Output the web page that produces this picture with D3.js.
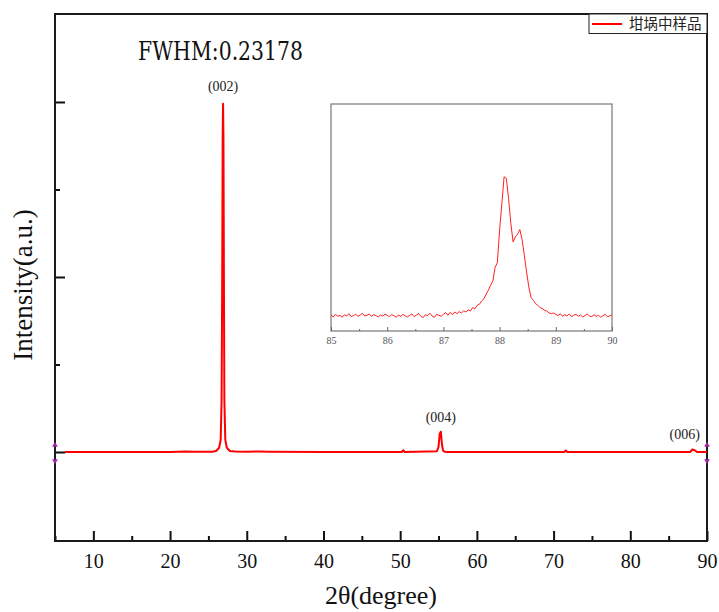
<!DOCTYPE html>
<html>
<head>
<meta charset="utf-8">
<script src="https://cdn.jsdelivr.net/npm/d3@7"></script>
<style>
  html, body { margin: 0; padding: 0; background: #fff; }
  svg { display: block; }
</style>
</head>
<body>
<div id="vis"></div>
<script>
const SERIF = "'Liberation Serif', serif"

// main pattern: 2theta (deg) and intensity (counts)
const MAIN_X = [6.3, 15, 20, 21, 22, 23, 24, 25.5, 26.0, 26.4, 26.6, 26.72, 26.8, 26.86, 26.91, 26.96, 27.02, 27.08, 27.2, 27.4, 27.8, 28.5, 30, 31.5, 33, 40,
    50.2, 50.4, 50.6, 54.8, 55.0, 55.15, 55.3, 55.45, 55.6, 55.8, 56.2, 71.4, 71.6, 71.8, 87.8, 88.1, 88.4, 88.7, 90]
const MAIN_Y = [0, 0, 0, 6, 12, 4, 8, 10, 30, 120, 350, 1500, 5000, 9000, 9950, 9000, 5000, 1500, 350, 120, 30, 15, 10, 12, 5, 0,
    0, 50, 0, 20, 150, 520, 580, 200, 40, 5, 0, 0, 40, 0, 0, 70, 50, 0, 0]

const X_TICKS = [10, 20, 30, 40, 50, 60, 70, 80, 90]
const X_MINOR = [5, 15, 25, 35, 45, 55, 65, 75, 85]
const Y_TICKS = [0, 5000, 10000]
const Y_MINOR = [2500, 7500]

const PEAK_LABELS = [
    {text: '(002)', x: 26.91, y: 10300},
    {text: '(004)', x: 55.3, y: 860},
    {text: '(006)', x: 87.1, y: 370}
]

// inset: 85-90 deg, sampled every 0.04 deg
const INSET_START = 85, INSET_STEP = 0.04
const INSET_Y = [
    48, 42, 50, 44, 47, 41, 49, 45, 52, 43, 46, 50, 44, 48, 53, 45, 47, 51, 44, 49, 46, 42, 48, 45, 50,
    47, 43, 49, 46, 41, 48, 44, 50, 45, 42, 47, 51, 43, 48, 52, 44, 40, 49, 46, 53, 45, 41, 50, 47, 44,
    50, 55, 47, 56, 49, 57, 52, 58, 54, 60, 57, 63, 60, 70, 66, 77, 80, 90, 96, 110, 122, 137, 150, 190, 205,
    302, 382, 462, 457, 397, 322, 267, 282, 290, 304, 274, 227, 177, 132, 100, 92, 82, 77, 70, 67, 62, 60, 54, 52, 54,
    50, 46, 52, 44, 49, 45, 51, 43, 47, 50, 44, 48, 42, 46, 51, 45, 43, 49, 44, 47, 41, 46, 50, 43, 45, 49
]
const INSET_TICKS = [85, 86, 87, 88, 89, 90]
const INSET_MINOR = [85.5, 86.5, 87.5, 88.5, 89.5]

const LEGEND_LABEL = '坩埚中样品'
const FWHM_TEXT = 'FWHM:0.23178'

const width = 719, height = 612
const plot = {left: 55, top: 14, right: 707, bottom: 541}

let svg = d3.select('#vis').append('svg')
    .attr('width', width)
    .attr('height', height)

let x = d3.scaleLinear().domain([5, 90]).range([plot.left, plot.right])
let y = d3.scaleLinear().domain([-2543, 12514]).range([plot.bottom, plot.top])

function styleTicks(g, color) {
    g.select('.domain').remove()
    g.selectAll('.tick line').attr('stroke', color).attr('stroke-width', 2)
}

// x axis, ticks pointing inward
svg.append('g')
    .attr('transform', `translate(0,${plot.bottom})`)
    .call(d3.axisBottom(x).tickValues(X_TICKS).tickSize(-10).tickPadding(13))
    .call(g => styleTicks(g, '#111'))
    .call(g => g.selectAll('text')
        .attr('font-family', SERIF)
        .attr('font-size', 20)
        .attr('fill', '#111'))

svg.append('g')
    .attr('transform', `translate(0,${plot.bottom})`)
    .call(d3.axisBottom(x).tickValues(X_MINOR).tickSize(-5).tickFormat(''))
    .call(g => styleTicks(g, '#111'))

svg.append('g')
    .attr('transform', `translate(${plot.left},0)`)
    .call(d3.axisLeft(y).tickValues(Y_TICKS).tickSize(-10).tickFormat(''))
    .call(g => styleTicks(g, '#111'))

svg.append('g')
    .attr('transform', `translate(${plot.left},0)`)
    .call(d3.axisLeft(y).tickValues(Y_MINOR).tickSize(-5).tickFormat(''))
    .call(g => styleTicks(g, '#111'))

// frame
svg.append('rect')
    .attr('x', plot.left)
    .attr('y', plot.top)
    .attr('width', plot.right - plot.left)
    .attr('height', plot.bottom - plot.top)
    .attr('fill', 'none')
    .attr('stroke', '#1a1a1a')
    .attr('stroke-width', 2)

// main curve
let mainData = MAIN_X.map((d, i) => ({x: d, y: MAIN_Y[i]}))
svg.append('path')
    .datum(mainData)
    .attr('fill', 'none')
    .attr('stroke', '#ff0000')
    .attr('stroke-width', 2)
    .attr('stroke-linejoin', 'round')
    .attr('d', d3.line().x(d => x(d.x)).y(d => y(d.y)))

// purple markers at both axes near the baseline
let tri = d3.symbol().type(d3.symbolTriangle).size(14)
for (let px of [plot.left, plot.right]) {
    svg.append('path').attr('d', tri).attr('fill', '#a020a0')
        .attr('transform', `translate(${px},${y(0) - 7})`)
    svg.append('path').attr('d', tri).attr('fill', '#a020a0')
        .attr('transform', `translate(${px},${y(0) + 9}) rotate(180)`)
}

// peak labels
svg.append('g').selectAll('text')
    .data(PEAK_LABELS)
    .enter().append('text')
    .attr('x', d => x(d.x))
    .attr('y', d => y(d.y))
    .attr('text-anchor', 'middle')
    .attr('font-family', SERIF)
    .attr('font-size', 14)
    .attr('fill', '#222')
    .text(d => d.text)

// FWHM annotation
svg.append('text')
    .attr('x', 138)
    .attr('y', 60)
    .attr('textLength', 165)
    .attr('lengthAdjust', 'spacingAndGlyphs')
    .attr('font-family', "'DejaVu Serif', serif")
    .attr('font-size', 26)
    .attr('fill', '#111')
    .text(FWHM_TEXT)

// legend
let legend = svg.append('g')
legend.append('rect')
    .attr('x', 589).attr('y', 14)
    .attr('width', 118).attr('height', 19.5)
    .attr('fill', '#fff')
    .attr('stroke', '#222')
    .attr('stroke-width', 1)
legend.append('line')
    .attr('x1', 592).attr('x2', 622)
    .attr('y1', 24).attr('y2', 24)
    .attr('stroke', '#ff0000')
    .attr('stroke-width', 2)
legend.append('text')
    .attr('x', 629).attr('y', 29)
    .attr('font-family', "'Noto Sans CJK SC', sans-serif")
    .attr('font-size', 14.5)
    .attr('fill', '#222')
    .text(LEGEND_LABEL)

// axis titles
svg.append('text')
    .attr('transform', 'translate(32,285) rotate(-90)')
    .attr('text-anchor', 'middle')
    .attr('font-family', SERIF)
    .attr('font-size', 27)
    .attr('fill', '#111')
    .text('Intensity(a.u.)')

svg.append('text')
    .attr('x', 381).attr('y', 604)
    .attr('text-anchor', 'middle')
    .attr('font-family', SERIF)
    .attr('font-size', 26)
    .attr('fill', '#111')
    .text('2θ(degree)')

// inset
let inset = {left: 331, top: 104, right: 612, bottom: 331}
let ix = d3.scaleLinear().domain([85, 90]).range([inset.left, inset.right])
let iy = d3.scaleLinear().domain([0, 680]).range([inset.bottom, inset.top])
let insetData = INSET_Y.map((v, i) => ({x: INSET_START + i * INSET_STEP, y: v}))

let ig = svg.append('g')
ig.append('rect')
    .attr('x', inset.left).attr('y', inset.top)
    .attr('width', inset.right - inset.left)
    .attr('height', inset.bottom - inset.top)
    .attr('fill', '#fff')
    .attr('stroke', '#777')
    .attr('stroke-width', 1.2)

ig.append('g')
    .attr('transform', `translate(0,${inset.bottom})`)
    .call(d3.axisBottom(ix).tickValues(INSET_TICKS).tickSize(-4).tickPadding(6).tickFormat(d3.format('d')))
    .call(g => g.select('.domain').remove())
    .call(g => g.selectAll('.tick line').attr('stroke', '#666'))
    .call(g => g.selectAll('text')
        .attr('font-family', SERIF)
        .attr('font-size', 10)
        .attr('fill', '#555'))

ig.append('g')
    .attr('transform', `translate(0,${inset.bottom})`)
    .call(d3.axisBottom(ix).tickValues(INSET_MINOR).tickSize(-2).tickFormat(''))
    .call(g => g.select('.domain').remove())
    .call(g => g.selectAll('.tick line').attr('stroke', '#666'))

ig.append('path')
    .datum(insetData)
    .attr('fill', 'none')
    .attr('stroke', '#ff2020')
    .attr('stroke-width', 1)
    .attr('d', d3.line().x(d => ix(d.x)).y(d => iy(d.y)))
</script>
</body>
</html>
